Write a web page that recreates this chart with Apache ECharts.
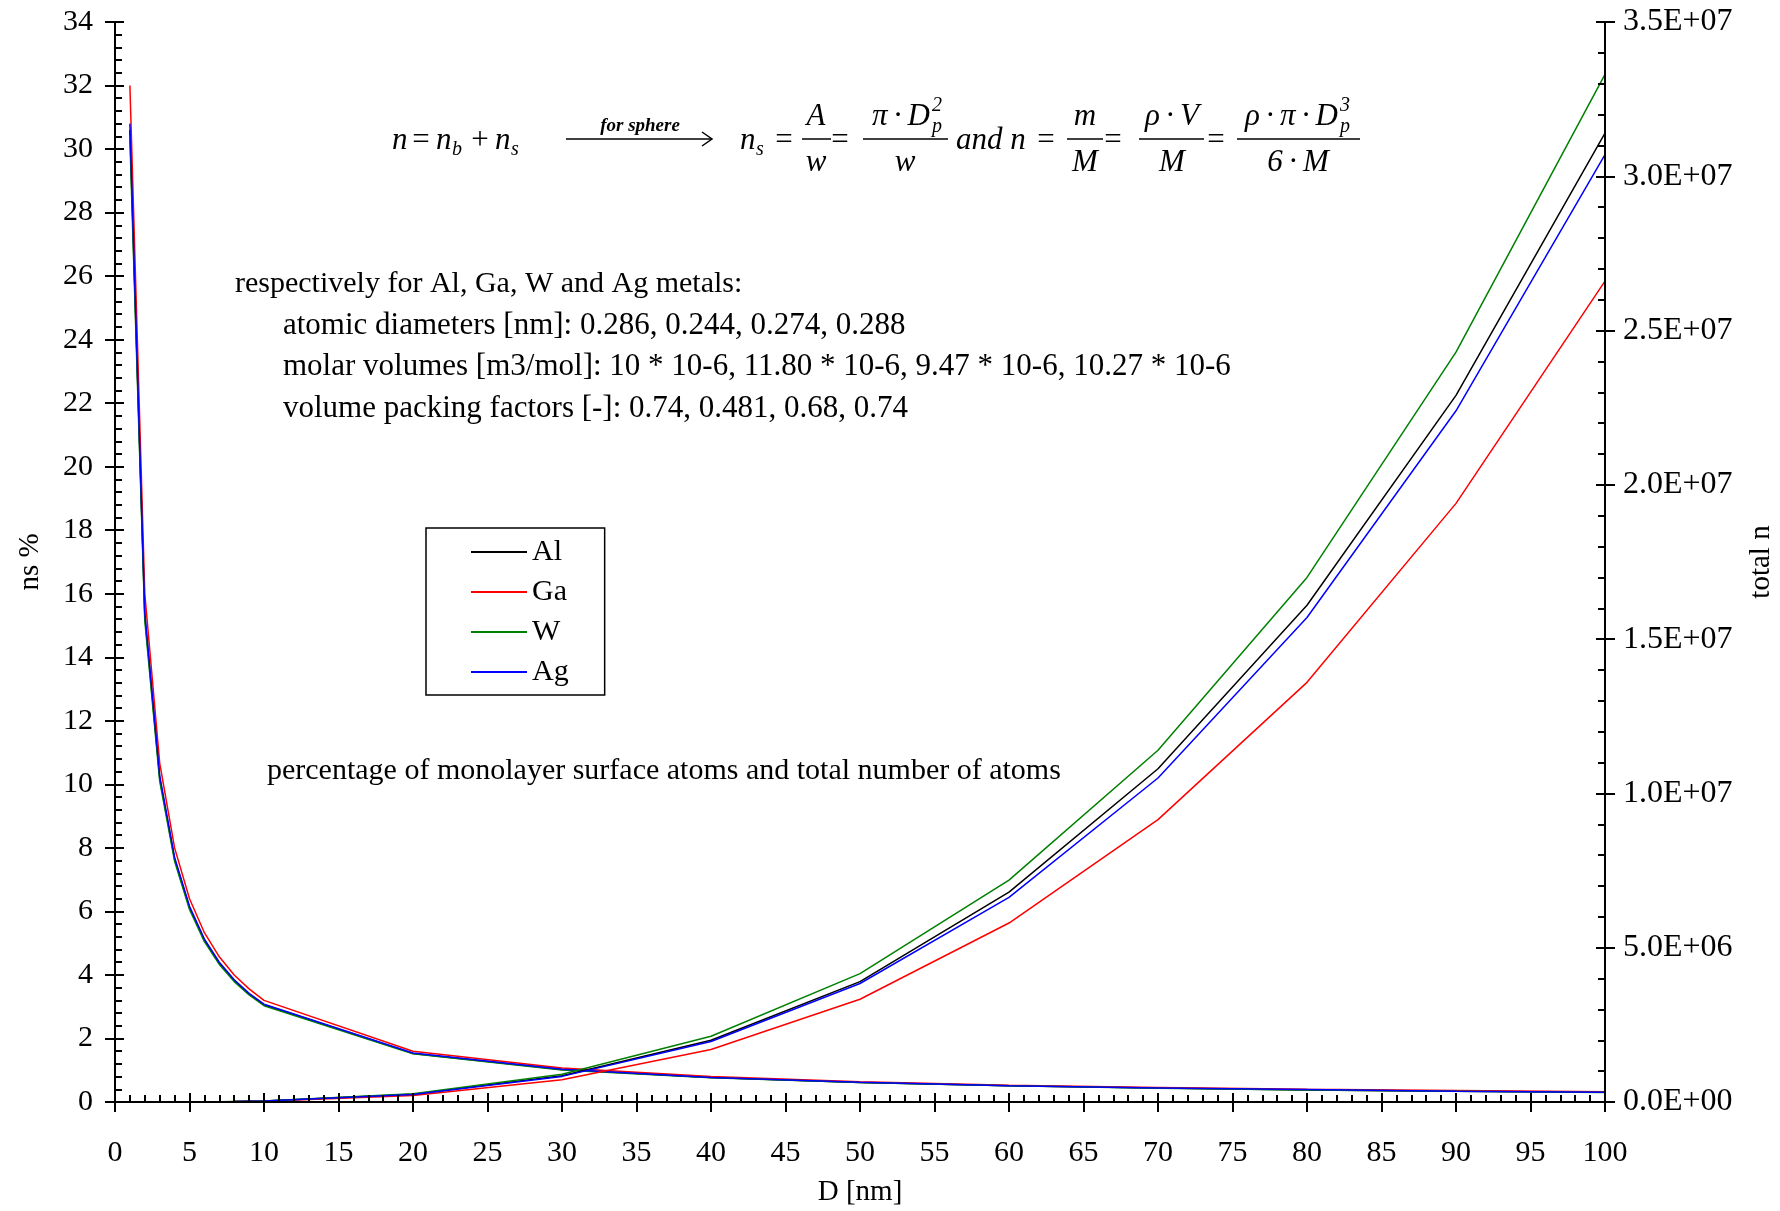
<!DOCTYPE html>
<html>
<head>
<meta charset="utf-8">
<script src="https://cdn.jsdelivr.net/npm/echarts@6/dist/echarts.min.js"></script>
<style>
  html, body { margin: 0; padding: 0; background: #fff; }
  #chart { width: 1780px; height: 1211px; }
</style>
</head>
<body>
<div id="chart"></div>
<script>
// particle diameter D [nm]
var diameters = [1, 2, 3, 4, 5, 6, 7, 8, 9, 10, 20, 30, 40, 50, 60, 70, 80, 90, 100];
var metals = ["Al", "Ga", "W", "Ag"];
var colors = ["#000000", "#ff0000", "#008000", "#0000ff"];

// ns % (left axis)
var nsAl = [30.6, 15.3, 10.2, 7.65, 6.12, 5.1, 4.37, 3.83, 3.4, 3.06, 1.53, 1.02, 0.77, 0.61, 0.51, 0.44, 0.38, 0.34, 0.31];
var nsGa = [32.0, 16.0, 10.67, 8.0, 6.4, 5.33, 4.57, 4.0, 3.56, 3.2, 1.6, 1.07, 0.8, 0.64, 0.53, 0.46, 0.4, 0.36, 0.32];
var nsW = [30.3, 15.15, 10.1, 7.58, 6.06, 5.05, 4.33, 3.79, 3.37, 3.03, 1.52, 1.01, 0.76, 0.61, 0.51, 0.43, 0.38, 0.34, 0.3];
var nsAg = [30.8, 15.4, 10.27, 7.7, 6.16, 5.13, 4.4, 3.85, 3.42, 3.08, 1.54, 1.03, 0.77, 0.62, 0.51, 0.44, 0.39, 0.34, 0.31];

// total n (right axis)
var nAl = [31, 250, 850, 2000, 3900, 6800, 10800, 16000, 22900, 31400, 250000, 850000, 2000000, 3900000, 6800000, 10800000, 16100000, 22900000, 31400000];
var nGa = [27, 210, 720, 1700, 3300, 5700, 9100, 13600, 19400, 26600, 213000, 720000, 1700000, 3330000, 5800000, 9150000, 13600000, 19400000, 26600000];
var nW = [33, 270, 900, 2130, 4160, 7200, 11400, 17000, 24300, 33300, 266000, 900000, 2130000, 4160000, 7190000, 11400000, 17000000, 24300000, 33300000];
var nAg = [31, 245, 830, 1960, 3840, 6630, 10500, 15700, 22400, 30700, 246000, 830000, 1960000, 3840000, 6630000, 10500000, 15700000, 22400000, 30700000];

var xTicks = { min: 0, max: 100, interval: 5 };
var nsTicks = { min: 0, max: 34, interval: 2 };
var nTicks = { min: 0, max: 35000000, interval: 5000000 };

var FONT = '"Liberation Serif", "Times New Roman", serif';

function pairs(ys) {
  return diameters.map(function (d, i) { return [d, ys[i]]; });
}

function sci(v) {
  if (v === 0) return "0.0E+00";
  var e = Math.floor(Math.log10(v) + 1e-9);
  var m = v / Math.pow(10, e);
  return m.toFixed(1) + "E+" + (e < 10 ? "0" + e : e);
}

var chart = echarts.init(document.getElementById("chart"));

function labelStyle(size, margin) {
  return { color: "#000", fontFamily: FONT, fontSize: size, margin: margin, showMinLabel: true, showMaxLabel: true };
}
var axisLine = { show: true, onZero: false, lineStyle: { color: "#000", width: 2 } };

// main axes: inner ticks + minor ticks; twin axes: outer half of major ticks
function mainAxis(t, extra) {
  var a = {
    type: "value",
    min: t.min,
    max: t.max,
    interval: t.interval,
    axisLine: axisLine,
    axisTick: { show: true, inside: true, length: 9, lineStyle: { color: "#000", width: 2 } },
    minorTick: { show: true, splitNumber: 5, length: 7, lineStyle: { color: "#000", width: 2 } },
    splitLine: { show: false },
    minorSplitLine: { show: false },
    nameTextStyle: { color: "#000", fontFamily: FONT, fontSize: 29 },
    z: 5,
  };
  return Object.assign(a, extra);
}
function twinAxis(t, pos) {
  return {
    type: "value",
    position: pos,
    min: t.min,
    max: t.max,
    interval: t.interval,
    axisLine: { show: false, onZero: false },
    axisTick: { show: true, inside: false, length: 10, lineStyle: { color: "#000", width: 2 } },
    axisLabel: { show: false },
    splitLine: { show: false },
    z: 5,
  };
}

var series = [];
var nsData = [nsAl, nsGa, nsW, nsAg];
var nData = [nAl, nGa, nW, nAg];
metals.forEach(function (m, i) {
  series.push({
    name: m,
    type: "line",
    yAxisIndex: 0,
    data: pairs(nsData[i]),
    symbol: "none",
    lineStyle: { color: colors[i], width: 1.5 },
    itemStyle: { color: colors[i] },
  });
});
metals.forEach(function (m, i) {
  series.push({
    name: m,
    type: "line",
    yAxisIndex: 1,
    data: pairs(nData[i]),
    symbol: "none",
    lineStyle: { color: colors[i], width: 1.5 },
    itemStyle: { color: colors[i] },
  });
});

// ---- formula and notes as graphic text ----
var FI = "italic 31px " + FONT;
var FS = "italic 20px " + FONT;
var UP = "31px " + FONT;
var BAR = 139, NUM = 117, DEN = 163, MID = 141;
var TS = "\u2009\u00b7\u2009";
var g = [];
function t(x, y, s, font, align) {
  g.push({
    type: "text",
    x: x,
    y: y,
    style: { text: s, font: font || FI, fill: "#000", align: align || "center", verticalAlign: "middle" },
  });
}
function bar(x1, x2) {
  g.push({ type: "line", shape: { x1: x1, y1: BAR, x2: x2, y2: BAR }, style: { stroke: "#000", lineWidth: 1.5 } });
}

// n = n_b + n_s
t(392, MID, "n", FI, "left");
t(421, MID, "=", UP, "center");
t(436, MID, "n", FI, "left");
t(452, MID + 9, "b", FS, "left");
t(480, MID, "+", UP, "center");
t(495, MID, "n", FI, "left");
t(511, MID + 9, "s", FS, "left");
// arrow
g.push({ type: "line", shape: { x1: 566, y1: 139, x2: 712, y2: 139 }, style: { stroke: "#000", lineWidth: 1.5 } });
g.push({ type: "polyline", shape: { points: [[702, 132], [712, 139], [702, 146]] }, style: { stroke: "#000", lineWidth: 1.5, fill: null } });
t(640, 126, "for sphere", "italic bold 19px " + FONT, "center");
// n_s = A/w = pi D_p^2 / w
t(740, MID, "n", FI, "left");
t(756, MID + 9, "s", FS, "left");
t(784, MID, "=", UP, "center");
bar(802, 831); t(816, NUM, "A"); t(816, DEN, "w");
t(840, MID, "=", UP, "center");
bar(863, 948); t(930, NUM, "\u03c0" + TS + "D", FI, "right"); t(932, NUM - 11, "2", FS, "left"); t(932, NUM + 10, "p", FS, "left"); t(905, DEN, "w");
t(956, MID, "and n", FI, "left");
t(1046, MID, "=", UP, "center");
bar(1067, 1103); t(1085, NUM, "m"); t(1085, DEN, "M");
t(1113, MID, "=", UP, "center");
bar(1139, 1204); t(1172, NUM, "\u03c1" + TS + "V"); t(1172, DEN, "M");
t(1216, MID, "=", UP, "center");
bar(1237, 1360); t(1338, NUM, "\u03c1" + TS + "\u03c0" + TS + "D", FI, "right"); t(1340, NUM - 11, "3", FS, "left"); t(1340, NUM + 10, "p", FS, "left"); t(1298, DEN, "6" + TS + "M");

// notes
var FN = "30px " + FONT;
var FN2 = "31px " + FONT;
t(235, 284, "respectively for Al, Ga, W and Ag metals:", FN, "left");
t(283, 326, "atomic diameters [nm]: 0.286, 0.244, 0.274, 0.288", FN2, "left");
t(283, 367, "molar volumes [m3/mol]: 10 * 10-6, 11.80 * 10-6, 9.47 * 10-6, 10.27 * 10-6", FN2, "left");
t(283, 409, "volume packing factors [-]: 0.74, 0.481, 0.68, 0.74", FN2, "left");
t(267, 771, "percentage of monolayer surface atoms and total number of atoms", FN, "left");

var option = {
  animation: false,
  backgroundColor: "#ffffff",
  grid: { left: 115, right: 175, top: 22, bottom: 109, outerBoundsMode: "none" },
  legend: {
    data: metals,
    orient: "vertical",
    left: 426,
    top: 528,
    padding: [9, 36, 8, 45],
    icon: "rect",
    itemWidth: 56,
    itemHeight: 2,
    itemGap: 10,
    borderColor: "#000",
    borderWidth: 1.5,
    textStyle: { color: "#000", fontFamily: FONT, fontSize: 30 },
    selectedMode: false,
  },
  xAxis: [
    mainAxis(xTicks, {
      position: "bottom",
      name: "D [nm]",
      nameLocation: "middle",
      nameGap: 76,
      axisLabel: labelStyle(30, 36),
    }),
    twinAxis(xTicks, "bottom"),
  ],
  yAxis: [
    mainAxis(nsTicks, {
      position: "left",
      name: "ns %",
      nameLocation: "middle",
      nameGap: 70,
      nameRotate: 90,
      axisLabel: labelStyle(30, 22),
    }),
    mainAxis(nTicks, {
      position: "right",
      name: "total n",
      nameLocation: "middle",
      nameGap: 142,
      nameRotate: 90,
      axisLabel: Object.assign(labelStyle(32, 18), { formatter: sci }),
    }),
    twinAxis(nsTicks, "left"),
    twinAxis(nTicks, "right"),
  ],
  series: series,
  graphic: g,
};
chart.setOption(option);

window.addEventListener("resize", function () {
  chart.resize();
});
</script>
</body>
</html>
